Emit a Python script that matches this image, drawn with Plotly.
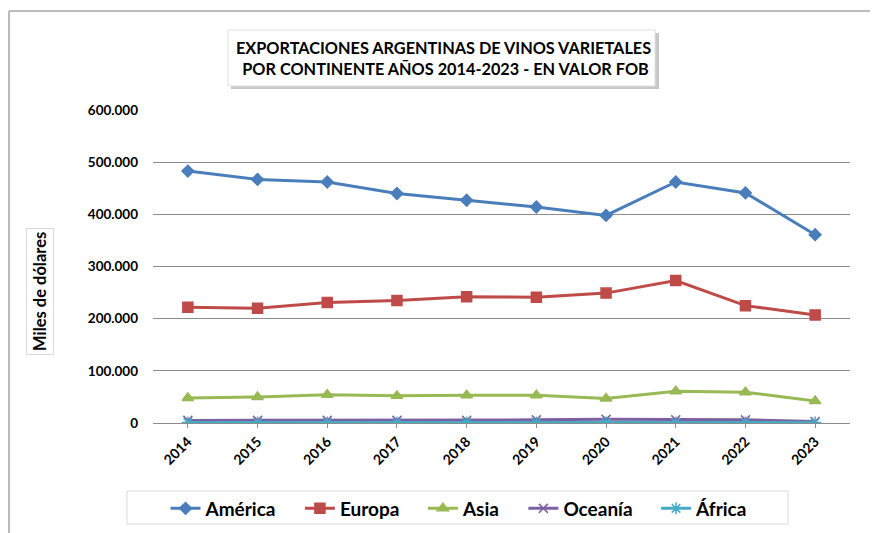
import plotly.graph_objects as go

years = ["2014", "2015", "2016", "2017", "2018", "2019", "2020", "2021", "2022", "2023"]
america = [483000, 467000, 462000, 440000, 427000, 414000, 398000, 462000, 441000, 361000]
europa = [222000, 220000, 231000, 235000, 242000, 241000, 249000, 273000, 225000, 207000]
asia = [48000, 50000, 54000, 52000, 53000, 53000, 47000, 61000, 59000, 42000]
oceania = [5000, 5000, 5000, 5000, 5000, 6000, 7000, 6000, 6000, 3000]
africa = [1000, 1000, 1000, 1000, 1000, 1000, 1000, 1000, 1000, 1000]
series_names = ["América", "Europa", "Asia", "Oceanía", "África"]

OFF = 8  # page body margin
W, H = 878 - OFF, 533 - OFF
# plot area in reference (window) pixels
L, R, T, B = 153, 850, 110, 423
FONT = "Lato"


def px_x(p):
    return (p - L) / (R - L)


def px_y(p):
    return (B - p) / (B - T)


styles = [
    (america, "#4a7ebb", "diamond", 9),
    (europa, "#be4b48", "square", 10),
    (asia, "#98b954", "triangle-up", 10),
    (oceania, "#7d60a0", "x-thin", 9),
    (africa, "#46aac5", "asterisk-open", 10),
]

fig = go.Figure()
for i, (name, (vals, color, sym, size)) in enumerate(zip(series_names, styles)):
    pad = "\u00a0" * 4 if i < len(series_names) - 1 else ""
    fig.add_trace(go.Scatter(
        x=years, y=vals, name=name + pad, mode="lines+markers",
        line=dict(color=color, width=3),
        marker=dict(symbol=sym, size=size, color=color,
                    line=dict(color=color, width=1.5)),
    ))

fig.update_layout(
    width=W, height=H,
    margin=dict(l=L - OFF, r=W - (R - OFF), t=T - OFF, b=H - (B - OFF), autoexpand=False),
    paper_bgcolor="white", plot_bgcolor="white",
    separators=",.",
    font=dict(family=FONT, color="black"),
    showlegend=True,
    legend=dict(
        orientation="h", x=px_x(459), xanchor="center",
        y=px_y(508.5), yanchor="middle",
        font=dict(family=FONT, size=19, color="black", weight="bold"),
        borderwidth=0, bgcolor="rgba(0,0,0,0)",
        itemwidth=30,
    ),
    xaxis=dict(
        type="category", range=[-0.5, 9.5],
        showgrid=False, showline=False, zeroline=False,
        tickangle=-45, ticks="outside", ticklen=4, tickcolor="#8c8c8c",
        tickfont=dict(family=FONT, size=14, color="black", weight="bold"),
    ),
    yaxis=dict(
        range=[0, 600000], dtick=100000, tickformat=",d",
        showgrid=True, gridcolor="#8c8c8c", gridwidth=1,
        zeroline=True, zerolinecolor="#8c8c8c", zerolinewidth=1,
        showline=False, ticks="", ticklabelstandoff=14,
        tickfont=dict(family=FONT, size=13.5, color="black", weight="bold"),
    ),
)

# outer chart border (left and top visible)
fig.add_shape(type="line", xref="paper", yref="paper",
              x0=px_x(9), x1=px_x(890), y0=px_y(11), y1=px_y(11),
              line=dict(color="#a6a6a6", width=1.5))
fig.add_shape(type="line", xref="paper", yref="paper",
              x0=px_x(9), x1=px_x(9), y0=px_y(11), y1=px_y(545),
              line=dict(color="#a6a6a6", width=1.5))

# legend box
fig.add_shape(type="rect", xref="paper", yref="paper",
              x0=px_x(127), x1=px_x(788), y0=px_y(491), y1=px_y(524),
              line=dict(color="#d9d9d9", width=1), fillcolor="white", layer="below")

# title box with shadow
fig.add_shape(type="rect", xref="paper", yref="paper",
              x0=px_x(231), x1=px_x(659), y0=px_y(33), y1=px_y(89),
              line=dict(width=0), fillcolor="#c8c8c8", layer="below")
fig.add_shape(type="rect", xref="paper", yref="paper",
              x0=px_x(228), x1=px_x(655), y0=px_y(30), y1=px_y(86),
              line=dict(color="#e0e0e0", width=1), fillcolor="white", layer="below")
fig.add_annotation(
    xref="paper", yref="paper", x=px_x(443), y=px_y(57.5),
    xanchor="center", yanchor="middle", showarrow=False,
    text="EXPORTACIONES ARGENTINAS DE VINOS VARIETALES<br> POR CONTINENTE AÑOS 2014-2023 - EN VALOR FOB",
    font=dict(family=FONT, size=16.3, color="black", weight="bold"),
    align="center",
)

# y axis title box
fig.add_annotation(
    xref="paper", yref="paper", x=px_x(40), y=px_y(292),
    xanchor="center", yanchor="middle", showarrow=False,
    text="Miles de dólares", textangle=-90,
    font=dict(family=FONT, size=16.5, color="black", weight="bold"),
    bordercolor="#d9d9d9", borderwidth=1, borderpad=3, bgcolor="white",
)

fig.write_html("out.html")
